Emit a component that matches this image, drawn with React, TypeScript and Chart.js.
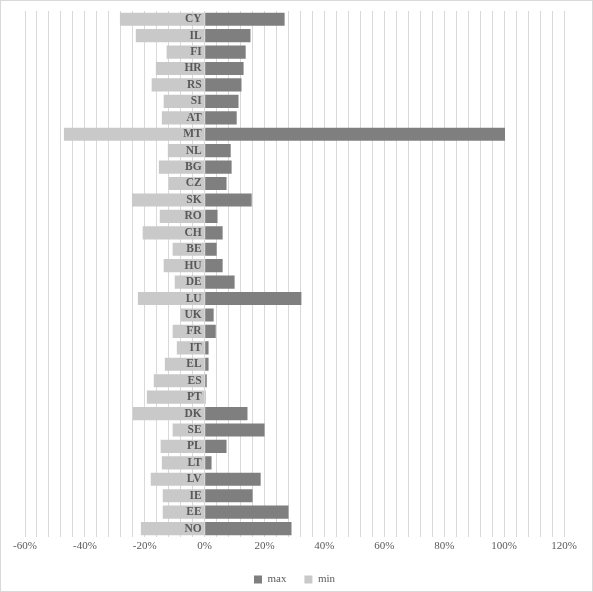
import React, { useEffect, useRef } from "react";
import { Chart, registerables } from "chart.js";

Chart.register(...registerables);

const categories = ["CY","IL","FI","HR","RS","SI","AT","MT","NL","BG","CZ","SK","RO","CH","BE","HU","DE","LU","UK","FR","IT","EL","ES","PT","DK","SE","PL","LT","LV","IE","EE","NO"];
const maxValues = [26.7,15.3,13.7,13.0,12.3,11.3,10.7,100.3,8.7,9.0,7.3,15.7,4.3,6.0,4.0,6.0,10.0,32.3,3.0,3.7,1.3,1.3,0.7,0.3,14.3,20.0,7.3,2.3,18.7,16.0,28.0,29.0];
const minValues = [-28.3,-23.0,-12.7,-16.3,-17.7,-13.7,-14.3,-47.0,-12.3,-15.3,-12.0,-24.3,-15.0,-20.7,-10.7,-13.7,-10.0,-22.3,-8.0,-10.7,-9.3,-13.3,-17.0,-19.3,-24.0,-10.7,-14.7,-14.3,-18.0,-14.0,-14.0,-21.3];
const seriesNames = ["max", "min"];
const axisMin = -60;
const axisMax = 120;
const gridStep = 4;
const labelStep = 20;

export default function App() {
  const ref = useRef<HTMLCanvasElement>(null);
  useEffect(() => {
    const font = "'Liberation Serif', 'Times New Roman', serif";
    const chart = new Chart(ref.current!, {
      type: "bar",
      data: {
        labels: categories,
        datasets: [
          { label: seriesNames[0], data: maxValues, backgroundColor: "#7f7f7f", barPercentage: 0.8, categoryPercentage: 1 },
          { label: seriesNames[1], data: minValues, backgroundColor: "#c9c9c9", barPercentage: 0.8, categoryPercentage: 1 },
        ],
      },
      options: {
        indexAxis: "y",
        animation: false,
        responsive: true,
        maintainAspectRatio: false,
        layout: { padding: { left: 24, right: 28, top: 10, bottom: -4 } },
        scales: {
          x: {
            stacked: true,
            min: axisMin,
            max: axisMax,
            grid: { color: "#d9d9d9", drawTicks: false },
            border: { display: false },
            ticks: {
              stepSize: gridStep,
              autoSkip: false,
              maxRotation: 0,
              padding: 3,
              color: "#595959",
              font: { family: font, size: 11 },
              callback: (v: any) => {
                const n = Math.round(Number(v));
                return n % labelStep === 0 ? n + "%" : "";
              },
            },
          },
          y: {
            stacked: true,
            position: { x: -1 } as any,
            grid: { display: false },
            border: { display: false },
            ticks: {
              z: 1,
              autoSkip: false,
              color: "#595959",
              font: { family: font, size: 11.5, weight: "bold" },
            },
          } as any,
        },
        plugins: {
          legend: {
            position: "bottom",
            labels: {
              boxWidth: 8,
              boxHeight: 8,
              color: "#595959",
              font: { family: font, size: 11 },
              padding: 18,
            },
          },
          tooltip: { enabled: false },
        },
      },
    });
    return () => chart.destroy();
  }, []);
  return (
    <div style={{ position: "fixed", left: 0, top: 0, width: 593, height: 592, border: "1px solid #d9d9d9", boxSizing: "border-box", background: "#fff" }}>
      <canvas ref={ref} />
    </div>
  );
}
